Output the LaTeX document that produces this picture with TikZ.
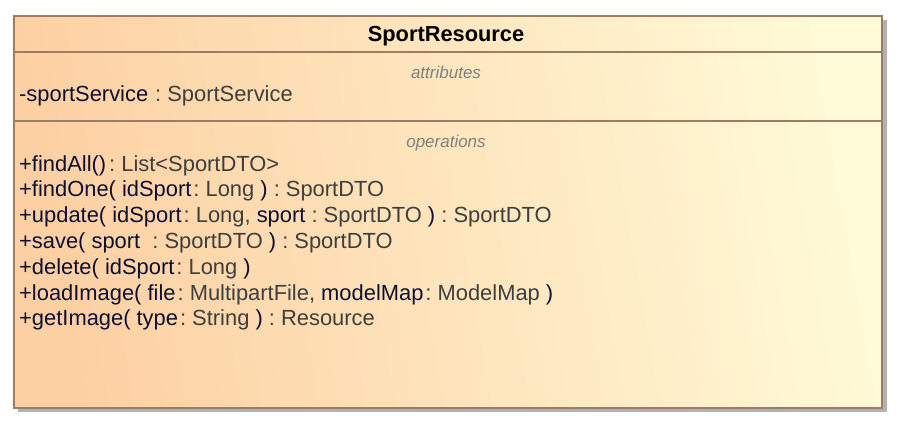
\documentclass[tikz,border=0pt]{standalone}
\usepackage{fontspec}
\setmainfont{Liberation Sans}
\definecolor{namec}{RGB}{14,14,50}
\definecolor{typec}{RGB}{62,62,62}
\definecolor{lblc}{RGB}{128,128,128}
\definecolor{borderc}{RGB}{156,124,98}
\definecolor{shadowc}{RGB}{178,178,178}
\definecolor{leftc}{RGB}{253,208,163}
\definecolor{rightc}{RGB}{255,250,215}
\newcommand\umlN[1]{\textcolor{namec}{#1}}
\newcommand\umlT[1]{\textcolor{typec}{#1}}
\begin{document}
\begin{tikzpicture}[x=1pt,y=-1pt,
  classbox/.style={draw=borderc, line width=1.6pt, left color=leftc, right color=rightc, shading angle=100,
    minimum width=868pt, minimum height=392pt, inner sep=0pt, anchor=north west},
  sep/.style={draw=borderc, line width=1.6pt},
  title/.style={anchor=base, inner sep=0pt, font=\fontsize{21.8}{25}\selectfont\bfseries, text=black},
  lbl/.style={anchor=base, inner sep=0pt, font=\fontsize{17}{20}\selectfont\itshape, text=lblc},
  row/.style={anchor=base west, inner sep=0pt, font=\fontsize{21.9}{24}\selectfont}]
\useasboundingbox (0,0) rectangle (904,426);
\fill[shadowc] (18,20) rectangle (887,412);
\node[classbox] (cls) at (13,15) {};
\coordinate (s1w) at (13,52);
\coordinate (s1e) at (881,52);
\coordinate (s2w) at (13,121);
\coordinate (s2e) at (881,121);
\draw[sep] (s1w) -- (s1e);
\draw[sep] (s2w) -- (s2e);
\node[title] (name) at (446,41) {SportResource};
\node[lbl] (attr) at (446,78) {attributes};
\node[row] (a1) at (19,101.5) {\umlN{-sportService}\umlT{\kern7pt:~SportService}};
\node[row] (o1) at (19,171) {\umlN{+findAll()}\umlT{\kern3pt:~List<SportDTO>}};
\node[lbl] (ops) at (446,147) {operations};
\node[row] (o2) at (19,196.8) {\umlN{+findOne(~idSport}\umlT{\kern2pt:~Long~}\umlN{)}\umlT{~:~SportDTO}};
\node[row] (o3) at (19,222.6) {\umlN{+update(~idSport}\umlT{\kern2pt:~Long,~}\umlN{sport}\umlT{~:~SportDTO~}\umlN{)}\umlT{~:~SportDTO}};
\node[row] (o4) at (19,248.4) {\umlN{+save(~sport}\umlT{~~:~SportDTO~}\umlN{)}\umlT{~:~SportDTO}};
\node[row] (o5) at (19,274.2) {\umlN{+delete(~idSport}\umlT{\kern2pt:~Long~}\umlN{)}};
\node[row] (o6) at (19,300) {\umlN{+loadImage(~file}\umlT{\kern2pt:~MultipartFile,~}\umlN{modelMap}\umlT{\kern2pt:~ModelMap~}\umlN{)}};
\node[row] (o7) at (19,325.8) {\umlN{+getImage(~type}\umlT{\kern2pt:~String~}\umlN{)}\umlT{~:~Resource}};
\end{tikzpicture}
\end{document}
